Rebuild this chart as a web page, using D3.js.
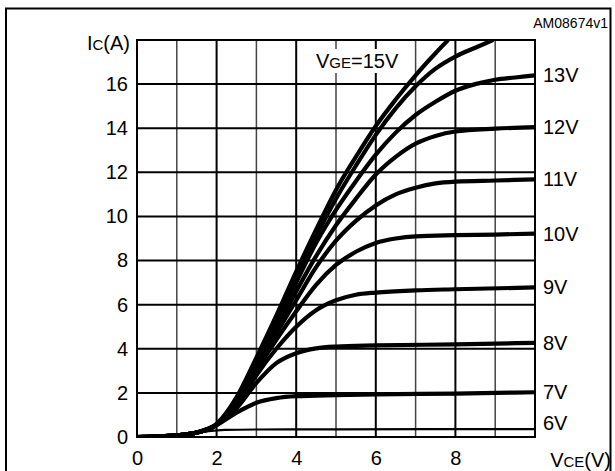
<!DOCTYPE html>
<html>
<head>
<meta charset="utf-8">
<script src="https://cdn.jsdelivr.net/npm/d3@7"></script>
<style>
  html, body { margin: 0; padding: 0; background: #fff; }
  svg { display: block; font-family: "Liberation Sans", Arial, Helvetica, sans-serif; }
</style>
</head>
<body>
<svg id="chart" width="615" height="471"></svg>
<script>
// ---- data ----
const xTicks = [0, 2, 4, 6, 8];
const yTicks = [0, 2, 4, 6, 8, 10, 12, 14, 16];
const vgeLabels = ["6V", "7V", "8V", "9V", "10V", "11V", "12V", "13V", "14V", "15V"];
const showLabel = [true, true, true, true, true, true, true, true, false, false];

const vce6  = [0, 0.5, 1, 1.5, 1.8, 2.2, 3, 5, 10];
const ic6   = [0, 0.02, 0.07, 0.18, 0.26, 0.32, 0.34, 0.35, 0.36];
const vce7  = [0, 0.5, 1, 1.5, 2, 2.5, 3, 3.5, 4, 5, 6, 8, 10];
const ic7   = [0, 0.02, 0.07, 0.2, 0.55, 1.1, 1.55, 1.76, 1.85, 1.9, 1.93, 1.97, 2.03];
const vce8  = [0, 0.5, 1, 1.5, 2, 2.5, 3, 3.5, 4, 4.5, 5, 6, 8, 10];
const ic8   = [0, 0.02, 0.07, 0.2, 0.55, 1.3, 2.45, 3.35, 3.8, 4.02, 4.1, 4.15, 4.2, 4.27];
const vce9  = [0, 0.5, 1, 1.5, 2, 2.5, 3, 3.5, 4, 4.5, 5, 5.5, 6, 7, 8, 10];
const ic9   = [0, 0.02, 0.07, 0.2, 0.55, 1.4, 2.8, 4.0, 5.0, 5.75, 6.2, 6.45, 6.55, 6.65, 6.7, 6.78];
const vce10 = [0, 0.5, 1, 1.5, 2, 2.5, 3, 3.5, 4, 4.5, 5, 5.5, 6, 6.5, 7, 8, 9, 10];
const ic10  = [0, 0.02, 0.07, 0.2, 0.55, 1.5, 3.0, 4.4, 5.7, 6.9, 7.8, 8.4, 8.8, 9.0, 9.1, 9.15, 9.18, 9.22];
const vce11 = [0, 0.5, 1, 1.5, 2, 2.5, 3, 3.5, 4, 4.5, 5, 5.5, 6, 6.5, 7, 7.5, 8, 9, 10];
const ic11  = [0, 0.02, 0.07, 0.2, 0.55, 1.6, 3.2, 4.7, 6.2, 7.7, 8.9, 9.8, 10.5, 11.0, 11.3, 11.5, 11.58, 11.63, 11.68];
const vce12 = [0, 0.5, 1, 1.5, 2, 2.5, 3, 3.5, 4, 4.5, 5, 5.5, 6, 6.5, 7, 7.5, 8, 9, 10];
const ic12  = [0, 0.02, 0.07, 0.2, 0.55, 1.65, 3.3, 4.9, 6.6, 8.2, 9.6, 10.8, 11.9, 12.7, 13.3, 13.65, 13.85, 13.98, 14.05];
const vce13 = [0, 0.5, 1, 1.5, 2, 2.5, 3, 3.5, 4, 4.5, 5, 5.5, 6, 6.5, 7, 7.5, 8, 8.5, 9, 9.5, 10];
const ic13  = [0, 0.02, 0.07, 0.2, 0.55, 1.7, 3.4, 5.1, 7.0, 8.8, 10.3, 11.6, 12.8, 13.8, 14.6, 15.2, 15.7, 16.0, 16.2, 16.3, 16.4];
const vce14 = [0, 0.5, 1, 1.5, 2, 2.5, 3, 3.5, 4, 4.5, 5, 5.5, 6, 6.5, 7, 7.5, 8, 8.5, 8.95];
const ic14  = [0, 0.02, 0.07, 0.2, 0.55, 1.75, 3.5, 5.3, 7.3, 9.1, 10.8, 12.3, 13.7, 14.9, 15.9, 16.7, 17.25, 17.65, 18.0];
const vce15 = [0, 0.5, 1, 1.5, 2, 2.5, 3, 3.5, 4, 4.5, 5, 5.5, 6, 6.5, 7, 7.5, 7.82];
const ic15  = [0, 0.02, 0.07, 0.2, 0.6, 1.8, 3.6, 5.5, 7.5, 9.4, 11.2, 12.7, 14.1, 15.3, 16.4, 17.4, 18.0];

const vceSets = [vce6, vce7, vce8, vce9, vce10, vce11, vce12, vce13, vce14, vce15];
const icSets  = [ic6, ic7, ic8, ic9, ic10, ic11, ic12, ic13, ic14, ic15];

// ---- layout ----
const FS = 20, FS_SUB = 15;
const svg = d3.select("#chart");
const x = d3.scaleLinear().domain([0, 10]).range([137, 535]);
const y = d3.scaleLinear().domain([0, 18]).range([437, 40]);

// outer frame
svg.append("path")
  .attr("d", "M6,480 L6,8.5 L610.5,8.5 L610.5,480")
  .attr("fill", "none").attr("stroke", "#000").attr("stroke-width", 2);

svg.append("text").attr("x", 608).attr("y", 28)
  .attr("text-anchor", "end").attr("font-size", 14).text("AM08674v1");

// grid
const g = svg.append("g");
g.selectAll("line.v").data(d3.range(1, 10)).join("line")
  .attr("x1", d => x(d)).attr("x2", d => x(d))
  .attr("y1", y(0)).attr("y2", y(18))
  .attr("stroke", d => d % 2 === 0 ? "#000" : "#444")
  .attr("stroke-width", d => d % 2 === 0 ? 2 : 1.5);
g.selectAll("line.h").data(d3.range(2, 18, 2)).join("line")
  .attr("x1", x(0)).attr("x2", x(10))
  .attr("y1", d => y(d)).attr("y2", d => y(d))
  .attr("stroke", "#000").attr("stroke-width", 2);
g.append("rect")
  .attr("x", x(0)).attr("y", y(18))
  .attr("width", x(10) - x(0)).attr("height", y(0) - y(18))
  .attr("fill", "none").attr("stroke", "#000").attr("stroke-width", 2);

// axes (tick text only)
const yAxis = svg.append("g").attr("transform", `translate(${x(0)},0)`)
  .call(d3.axisLeft(y).tickValues(yTicks).tickSize(0).tickPadding(9));
yAxis.select(".domain").remove();
yAxis.selectAll("text").attr("font-size", FS).attr("font-family", "Liberation Sans, Arial, sans-serif").attr("fill", "#000");

const xAxis = svg.append("g").attr("transform", `translate(0,${y(0)})`)
  .call(d3.axisBottom(x).tickValues(xTicks).tickSize(0).tickPadding(14));
xAxis.select(".domain").remove();
xAxis.selectAll("text").attr("font-size", FS).attr("font-family", "Liberation Sans, Arial, sans-serif").attr("fill", "#000");

// axis titles
const ytitle = svg.append("text").attr("x", 130).attr("y", 50)
  .attr("text-anchor", "end").attr("font-size", FS);
ytitle.append("tspan").text("I");
ytitle.append("tspan").attr("font-size", FS_SUB).text("C");
ytitle.append("tspan").text("(A)");

const xtitle = svg.append("text").attr("x", 611).attr("y", 467)
  .attr("text-anchor", "end").attr("font-size", FS);
xtitle.append("tspan").text("V");
xtitle.append("tspan").attr("font-size", FS_SUB).text("CE");
xtitle.append("tspan").text("(V)");

// V_GE label with white backing box
const vgeG = svg.append("g");
const vge = vgeG.append("text").attr("x", 316).attr("y", 68).attr("font-size", FS);
vge.append("tspan").text("V");
vge.append("tspan").attr("font-size", FS_SUB).text("GE");
vge.append("tspan").text("=15V");
const bb = vge.node().getBBox();
vgeG.insert("rect", "text")
  .attr("x", bb.x - 3).attr("y", bb.y - 1)
  .attr("width", bb.width + 6).attr("height", bb.height + 2)
  .attr("fill", "#fff");

// curves
svg.append("clipPath").attr("id", "clip").append("rect")
  .attr("x", x(0)).attr("y", y(18)).attr("width", x(10) - x(0)).attr("height", y(0) - y(18));

const line = d3.line().x(d => x(d[0])).y(d => y(d[1])).curve(d3.curveMonotoneX);
const series = vgeLabels.map((lab, i) => ({
  label: lab,
  show: showLabel[i],
  pts: vceSets[i].map((v, k) => [v, icSets[i][k]])
}));

svg.append("g").attr("clip-path", "url(#clip)")
  .selectAll("path").data(series).join("path")
  .attr("d", d => line(d.pts))
  .attr("fill", "none").attr("stroke", "#000")
  .attr("stroke-width", (d, i) => i === 0 ? 2.2 : 4.2)
  .attr("stroke-linecap", "butt").attr("stroke-linejoin", "round");

// curve labels on the right
svg.append("g").selectAll("text").data(series.filter(d => d.show)).join("text")
  .attr("x", 543)
  .attr("y", d => y(d.pts[d.pts.length - 1][1]) + (d.label === "6V" ? -6 : 0))
  .attr("dy", "0.35em")
  .attr("font-size", FS)
  .text(d => d.label);
</script>
</body>
</html>
